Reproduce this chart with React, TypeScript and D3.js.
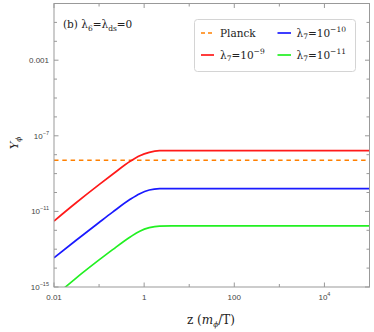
import React from 'react';
import * as d3 from 'd3';

const zGrid = [0.01, 0.03, 0.1, 0.2, 0.5, 0.8, 1.3, 2.2, 4, 1e5];
const redY = [3.1e-12, 2.7e-11, 2.6e-10, 9.2e-10, 4.6e-9, 8.8e-9, 1.33e-8, 1.63e-8, 1.66e-8, 1.66e-8];
const blueY = [3.5e-14, 2.8e-13, 2.6e-12, 9.2e-12, 4.5e-11, 8.7e-11, 1.35e-10, 1.6e-10, 1.62e-10, 1.62e-10];
const greenY = [3e-16, 2.8e-15, 2.7e-14, 9.5e-14, 4.6e-13, 9e-13, 1.38e-12, 1.68e-12, 1.7e-12, 1.7e-12];
const planckY = 5.1e-9;

const xTicks = [0.01, 0.1, 1, 10, 100, 1000, 1e4, 1e5];
const xLabels: Record<string, string[]> = { '0.01': ['0.01'], '1': ['1'], '100': ['100'], '10000': ['10', '4'] };
const yTicks = d3.range(-15, 1).map(e => Math.pow(10, e));
const yLabels: Record<string, string[]> = { '-15': ['10', '−15'], '-11': ['10', '−11'], '-7': ['10', '−7'], '-3': ['0.001'] };

const W = 374, H = 332;
const L = 54, R = 369.5, T = 3.5, B = 287;

const serif = '"DejaVu Serif", serif';
const sans = '"Liberation Sans", Arial, sans-serif';

export default function App() {
  const x = d3.scaleLog().domain([0.01, 1e5]).range([L, R]);
  const y = d3.scaleLog().domain([1e-15, 1]).range([B, T]);

  const line = d3.line<[number, number]>()
    .x(d => x(d[0]))
    .y(d => y(d[1]))
    .curve(d3.curveMonotoneX);

  const series = [
    { vals: redY, color: '#ff1a1a' },
    { vals: blueY, color: '#1a1aff' },
    { vals: greenY, color: '#22f022' },
  ];

  const frame = '#999';

  return (
    <svg width={W} height={H} style={{ position: 'absolute', left: 0, top: 0, background: '#fff' }}>
      <defs>
        <clipPath id="plot">
          <rect x={L} y={T} width={R - L} height={B - T} />
        </clipPath>
      </defs>

      {/* curves */}
      <g clipPath="url(#plot)">
        <line x1={L} x2={R} y1={y(planckY)} y2={y(planckY)} stroke="#ff8000" strokeWidth={1.7} strokeDasharray="4.5,3.8" />
        {series.map((s, i) => (
          <path key={i} d={line(zGrid.map((z, j) => [z, s.vals[j]] as [number, number])) || ''}
            fill="none" stroke={s.color} strokeWidth={1.7} />
        ))}
      </g>

      {/* frame */}
      <rect x={L} y={T} width={R - L} height={B - T} fill="none" stroke={frame} strokeWidth={1} />

      {/* x ticks */}
      {xTicks.map(t => {
        const px = x(t);
        const len = xLabels[String(t)] ? 4.5 : 3;
        const lab = xLabels[String(t)];
        return (
          <g key={'x' + t}>
            <line x1={px} x2={px} y1={B} y2={B - len} stroke={frame} />
            <line x1={px} x2={px} y1={T} y2={T + len} stroke={frame} />
            {lab && (
              <text x={px} y={B + 13} textAnchor="middle" fontFamily={sans} fontSize={8} fill="#444">
                {lab[0]}
                {lab[1] && <tspan dy={-4} fontSize={5.5}>{lab[1]}</tspan>}
              </text>
            )}
          </g>
        );
      })}

      {/* y ticks */}
      {yTicks.map(t => {
        const py = y(t);
        const e = String(Math.round(Math.log10(t)));
        const lab = yLabels[e];
        const len = lab ? 4.5 : 3;
        return (
          <g key={'y' + e}>
            <line x1={L} x2={L + len} y1={py} y2={py} stroke={frame} />
            <line x1={R} x2={R - len} y1={py} y2={py} stroke={frame} />
            {lab && (
              <text x={L - 5} y={py + 3} textAnchor="end" fontFamily={sans} fontSize={8} fill="#444">
                {lab[0]}
                {lab[1] && <tspan dy={-4} fontSize={5.5}>{lab[1]}</tspan>}
              </text>
            )}
          </g>
        );
      })}

      {/* panel label */}
      <text x={63} y={28} fontFamily={serif} fontSize={10.5} fill="#222">
        (b) λ<tspan dy={2.5} fontSize={7.5}>6</tspan><tspan dy={-2.5}>=λ</tspan>
        <tspan dy={2.5} fontSize={7.5}>ds</tspan><tspan dy={-2.5}>=0</tspan>
      </text>

      {/* legend */}
      <g>
        <rect x={194.5} y={19.5} width={161} height={52} rx={3} fill="#fff" stroke="#d4d4d4" strokeWidth={1} />
        <line x1={201} x2={214} y1={33} y2={33} stroke="#ff8000" strokeWidth={1.7} strokeDasharray="4,3" />
        <text x={220} y={36.5} fontFamily={serif} fontSize={10.5} fill="#222">Planck</text>
        <line x1={277.5} x2={291} y1={33} y2={33} stroke="#1a1aff" strokeWidth={1.7} />
        <text x={296.5} y={36.5} fontFamily={serif} fontSize={10.5} fill="#222">
          λ<tspan dy={2.5} fontSize={7.5}>7</tspan><tspan dy={-2.5}>=10</tspan><tspan dy={-4.5} fontSize={7.5}>−10</tspan>
        </text>
        <line x1={201} x2={214} y1={55} y2={55} stroke="#ff1a1a" strokeWidth={1.7} />
        <text x={220} y={58.5} fontFamily={serif} fontSize={10.5} fill="#222">
          λ<tspan dy={2.5} fontSize={7.5}>7</tspan><tspan dy={-2.5}>=10</tspan><tspan dy={-4.5} fontSize={7.5}>−9</tspan>
        </text>
        <line x1={277.5} x2={291} y1={55} y2={55} stroke="#22f022" strokeWidth={1.7} />
        <text x={296.5} y={58.5} fontFamily={serif} fontSize={10.5} fill="#222">
          λ<tspan dy={2.5} fontSize={7.5}>7</tspan><tspan dy={-2.5}>=10</tspan><tspan dy={-4.5} fontSize={7.5}>−11</tspan>
        </text>
      </g>

      {/* axis titles */}
      <text transform="translate(18,143) rotate(-90)" textAnchor="middle" fontFamily={serif} fontSize={11.5} fill="#222">
        <tspan fontStyle="italic">Y</tspan><tspan dy={2.5} fontSize={7.5} fontStyle="italic">ϕ</tspan>
      </text>
      <text x={211} y={324} textAnchor="middle" fontFamily={serif} fontSize={12} fill="#222">
        z (<tspan fontStyle="italic">m</tspan><tspan dy={2.5} fontSize={7.5} fontStyle="italic">ϕ</tspan><tspan dy={-2.5}>/T)</tspan>
      </text>
    </svg>
  );
}
